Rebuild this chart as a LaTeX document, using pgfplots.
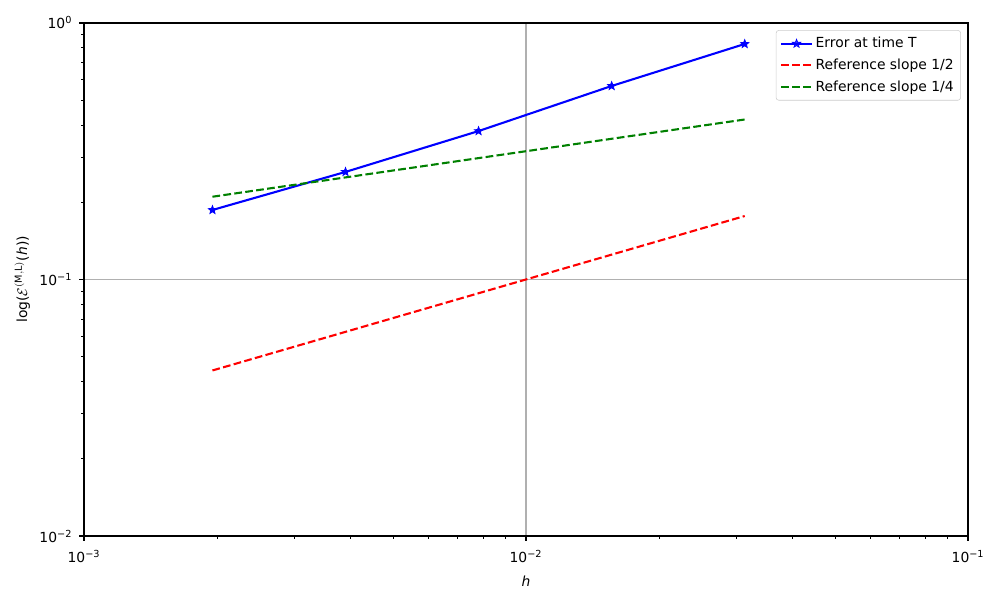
\documentclass[border=0pt]{standalone}
\usepackage{fontspec}
\setmainfont{DejaVu Sans}
\usepackage{pgfplots}
\pgfplotsset{compat=1.18}

% filled five-point star, like matplotlib's '*'
\pgfdeclareplotmark{fstar}{%
  \pgfpathmoveto{\pgfpointpolar{90}{\pgfplotmarksize}}%
  \pgfpathlineto{\pgfpointpolar{126}{0.42\pgfplotmarksize}}%
  \pgfpathlineto{\pgfpointpolar{162}{\pgfplotmarksize}}%
  \pgfpathlineto{\pgfpointpolar{198}{0.42\pgfplotmarksize}}%
  \pgfpathlineto{\pgfpointpolar{234}{\pgfplotmarksize}}%
  \pgfpathlineto{\pgfpointpolar{270}{0.42\pgfplotmarksize}}%
  \pgfpathlineto{\pgfpointpolar{306}{\pgfplotmarksize}}%
  \pgfpathlineto{\pgfpointpolar{342}{0.42\pgfplotmarksize}}%
  \pgfpathlineto{\pgfpointpolar{18}{\pgfplotmarksize}}%
  \pgfpathlineto{\pgfpointpolar{54}{0.42\pgfplotmarksize}}%
  \pgfpathclose
  \pgfusepathqfillstroke
}

\definecolor{mplgreen}{rgb}{0,0.5,0}
\definecolor{mplgrid}{HTML}{B0B0B0}

\begin{document}
\begin{tikzpicture}
\useasboundingbox (-60.48pt,-46.08pt) rectangle (659.52pt,385.92pt);
\begin{axis}[
  scale only axis,
  width=636.5pt,
  height=369.4pt,
  xmode=log, ymode=log,
  xmin=1e-3, xmax=1e-1,
  ymin=1e-2, ymax=1,
  xtick={0.001,0.01,0.1},
  xticklabels={10\textsuperscript{−3},10\textsuperscript{−2},10\textsuperscript{−1}},
  ytick={0.01,0.1,1},
  yticklabels={10\textsuperscript{−2},10\textsuperscript{−1},10\textsuperscript{0}},
  xtick pos=bottom, ytick pos=left,
  tick align=outside,
  major tick length=3.5pt,
  minor tick length=2pt,
  every tick/.style={black, line width=0.8pt},
  minor tick style={line width=0.6pt},
  grid=major,
  major grid style={mplgrid, line width=0.8pt},
  axis line style={line width=0.8pt},
  tick label style={font=\fontsize{10}{12}\selectfont},
  xticklabel style={yshift=-3pt},
  yticklabel style={xshift=-1.5pt},
  label style={font=\fontsize{10}{12}\selectfont},
  xlabel style={yshift=-3pt},
  xlabel={\itshape h},
  ylabel={log($\mathcal{E}^{(\mathrm{M,L})}$(\itshape h\upshape))},
  legend cell align=left,
  legend style={at={(0.992,0.986)}, anchor=north east, draw=black!20,
    rounded corners=2pt, fill=white, fill opacity=0.8, text opacity=1,
    font=\fontsize{10}{12}\selectfont, row sep=2.5pt, inner sep=3pt},
  legend image code/.code={%
    \draw[mark repeat=2, mark phase=2, #1] plot coordinates {(0pt,0pt) (11pt,0pt) (22pt,0pt)};},
]
\addplot[blue, line width=1.5pt, mark=fstar, mark size=3.2pt,
  mark options={solid, line width=0.5pt}] coordinates {
  (0.001953125,0.1866) (0.00390625,0.2626) (0.0078125,0.3790) (0.015625,0.5680) (0.03125,0.8280)
};
\addlegendentry{Error at time T}
\addplot[red, line width=1.5pt, dash pattern=on 5.55pt off 2.4pt] coordinates {
  (0.001953125,0.04419) (0.00390625,0.0625) (0.0078125,0.08839) (0.015625,0.125) (0.03125,0.17678)
};
\addlegendentry{Reference slope 1/2}
\addplot[mplgreen, line width=1.5pt, dash pattern=on 5.55pt off 2.4pt] coordinates {
  (0.001953125,0.2102) (0.00390625,0.25) (0.0078125,0.2973) (0.015625,0.3536) (0.03125,0.4204)
};
\addlegendentry{Reference slope 1/4}
\end{axis}
\end{tikzpicture}
\end{document}
